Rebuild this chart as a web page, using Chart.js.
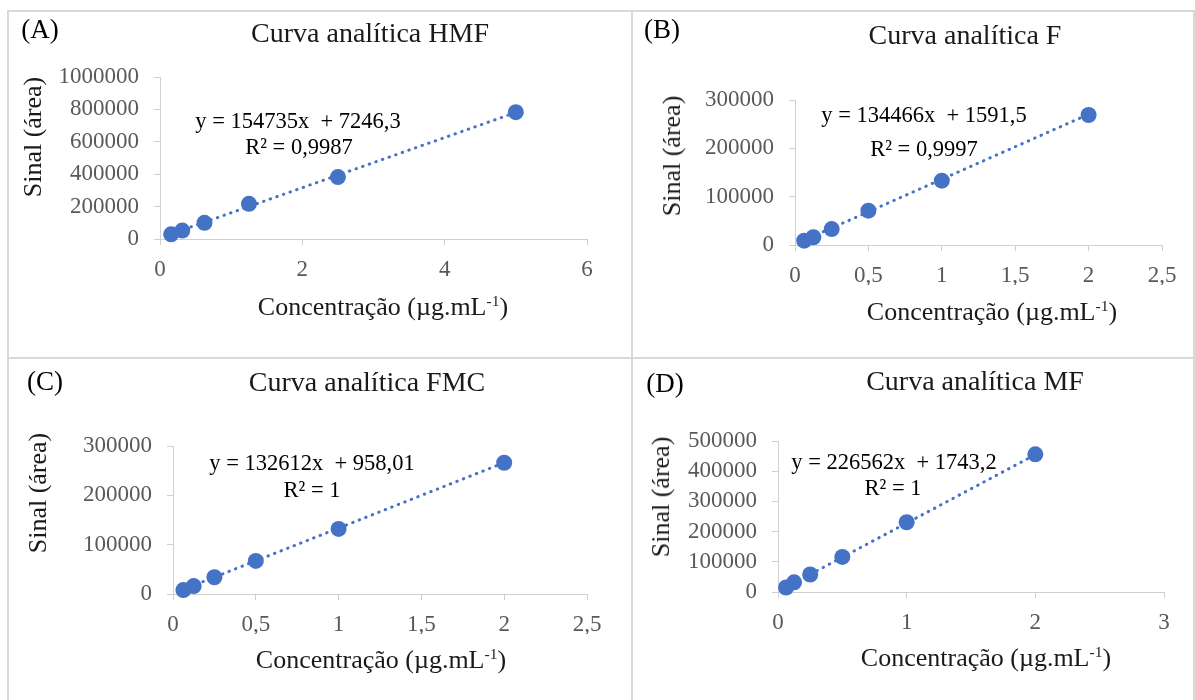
<!DOCTYPE html>
<html>
<head>
<meta charset="utf-8">
<script src="https://cdn.jsdelivr.net/npm/chart.js@4"></script>
<style>
  html, body { margin:0; padding:0; background:#fff; }
  #wrap { position:relative; width:1195px; height:700px; overflow:hidden; background:#fff; font-family:"Liberation Serif","Times New Roman",serif; }
  canvas { position:absolute; left:0; top:0; pointer-events:none; }
  .ln { position:absolute; background:#d9d9d9; }
  .t { position:absolute; line-height:1; white-space:pre; transform:translate(-50%,-50%); color:#111; }
  .letter { font-size:27px; color:#000; }
  .title { font-size:28px; color:#1a1a1a; }
  .ytitle { font-size:26px; color:#1a1a1a; transform:translate(-50%,-50%) rotate(-90deg); }
  .xtitle { font-size:26px; color:#1a1a1a; }
  .eq { font-size:22.5px; color:#000; }
  sup { font-size:60%; vertical-align:0.6em; line-height:0; }
</style>
</head>
<body>
<div id="wrap">
  <div class="ln" style="left:7px;top:10px;width:1188px;height:2px"></div>
  <div class="ln" style="left:7px;top:10px;width:2px;height:690px"></div>
  <div class="ln" style="left:631px;top:10px;width:2px;height:690px"></div>
  <div class="ln" style="left:7px;top:357px;width:1188px;height:2px"></div>
  <div class="ln" style="left:1193px;top:10px;width:2px;height:690px"></div>

  <canvas id="cA" width="1195" height="700"></canvas>
  <canvas id="cB" width="1195" height="700"></canvas>
  <canvas id="cC" width="1195" height="700"></canvas>
  <canvas id="cD" width="1195" height="700"></canvas>

  <div class="t letter" style="left:40px;top:29px">(A)</div>
  <div class="t title" style="left:370px;top:33px">Curva analítica HMF</div>
  <div class="t ytitle" style="left:33px;top:137px">Sinal (área)</div>
  <div class="t xtitle" style="left:383px;top:307px">Concentração (µg.mL<sup>-1</sup>)</div>
  <div class="t eq" style="left:298px;top:121px">y = 154735x  + 7246,3</div>
  <div class="t eq" style="left:299px;top:147px">R² = 0,9987</div>

  <div class="t letter" style="left:662px;top:29px">(B)</div>
  <div class="t title" style="left:965px;top:35px">Curva analítica F</div>
  <div class="t ytitle" style="left:672px;top:156px">Sinal (área)</div>
  <div class="t xtitle" style="left:992px;top:312px">Concentração (µg.mL<sup>-1</sup>)</div>
  <div class="t eq" style="left:924px;top:115px">y = 134466x  + 1591,5</div>
  <div class="t eq" style="left:924px;top:149px">R² = 0,9997</div>

  <div class="t letter" style="left:45px;top:381px">(C)</div>
  <div class="t title" style="left:367px;top:382px">Curva analítica FMC</div>
  <div class="t ytitle" style="left:38px;top:493px">Sinal (área)</div>
  <div class="t xtitle" style="left:381px;top:660px">Concentração (µg.mL<sup>-1</sup>)</div>
  <div class="t eq" style="left:312px;top:463px">y = 132612x  + 958,01</div>
  <div class="t eq" style="left:312px;top:490px">R² = 1</div>

  <div class="t letter" style="left:665px;top:383px">(D)</div>
  <div class="t title" style="left:975px;top:381px">Curva analítica MF</div>
  <div class="t ytitle" style="left:661px;top:497px">Sinal (área)</div>
  <div class="t xtitle" style="left:986px;top:658px">Concentração (µg.mL<sup>-1</sup>)</div>
  <div class="t eq" style="left:894px;top:462px">y = 226562x  + 1743,2</div>
  <div class="t eq" style="left:893px;top:488px">R² = 1</div>
</div>

<script>
// ---- Data ----
const concA = [0.156, 0.3125, 0.625, 1.25, 2.5, 5];
const areaA = [29000, 52000, 100000, 217000, 382000, 783000];
const trendXA = [0.156, 5];
const trendYA = [31400, 781000];

const concB = [0.0625, 0.125, 0.25, 0.5, 1, 2];
const areaB = [9000, 16000, 33000, 71000, 133000, 269000];
const trendXB = [0.0625, 2];
const trendYB = [10000, 270500];

const concC = [0.0625, 0.125, 0.25, 0.5, 1, 2];
const areaC = [8000, 16000, 34000, 67000, 132000, 266000];
const trendXC = [0.0625, 2];
const trendYC = [9250, 266200];

const concD = [0.0625, 0.125, 0.25, 0.5, 1, 2];
const areaD = [15000, 32000, 58000, 116000, 231000, 456000];
const trendXD = [0.0625, 2];
const trendYD = [15900, 454900];

// axis ranges / tick steps
const xMaxA = 6,   xStepA = 2,   yMaxA = 1000000, yStepA = 200000;
const xMaxB = 2.5, xStepB = 0.5, yMaxB = 300000,  yStepB = 100000;
const xMaxC = 2.5, xStepC = 0.5, yMaxC = 300000,  yStepC = 100000;
const xMaxD = 3,   xStepD = 1,   yMaxD = 500000,  yStepD = 100000;

// ---- Rendering ----
const BLUE = '#4472C4';
const AXIS = '#d0d0d0';
const TICKC = '#595959';
const Y_W = 100, X_H = 40;

function pts(xs, ys){ return xs.map((x,i)=>({x:x, y:ys[i]})); }
function fmt(v){ return String(v).replace('.', ','); }

function makeChart(id, xs, ys, tx, ty, xMax, xStep, yMax, yStep, area){
  const ctx = document.getElementById(id);
  return new Chart(ctx, {
    type: 'scatter',
    data: {
      datasets: [
        { data: pts(xs, ys), backgroundColor: BLUE, borderWidth: 0,
          pointRadius: 8, pointHoverRadius: 8, showLine: false, clip: false },
        { data: pts(tx, ty), showLine: true, borderColor: BLUE, borderWidth: 3,
          borderDash: [0.5, 6.5], borderCapStyle: 'round', pointRadius: 0, clip: false }
      ]
    },
    options: {
      responsive: false, animation: false, events: [],
      layout: { padding: { left: area.l - Y_W, right: 1195 - area.r, top: area.t, bottom: 700 - area.b - X_H } },
      plugins: { legend: { display: false }, tooltip: { enabled: false }, title: { display: false } },
      scales: {
        x: {
          type: 'linear', min: 0, max: xMax,
          afterFit: s => { s.height = X_H; },
          border: { display: true, color: AXIS, width: 1 },
          grid: { display: true, drawOnChartArea: false, drawTicks: true, tickLength: 6, color: AXIS },
          ticks: { stepSize: xStep, color: TICKC, padding: 11, maxRotation: 0, autoSkip: false,
                   font: { family: 'Liberation Serif', size: 23 }, callback: v => fmt(v) }
        },
        y: {
          type: 'linear', min: 0, max: yMax,
          afterFit: s => { s.width = Y_W; },
          border: { display: true, color: AXIS, width: 1 },
          grid: { display: true, drawOnChartArea: false, drawTicks: true, tickLength: 6, color: AXIS },
          ticks: { stepSize: yStep, color: TICKC, padding: 15, autoSkip: false,
                   font: { family: 'Liberation Serif', size: 23 }, callback: v => String(v) }
        }
      }
    }
  });
}

makeChart('cA', concA, areaA, trendXA, trendYA, xMaxA, xStepA, yMaxA, yStepA, {l:160, r:587, t:77,  b:239});
makeChart('cB', concB, areaB, trendXB, trendYB, xMaxB, xStepB, yMaxB, yStepB, {l:795, r:1162, t:100, b:245});
makeChart('cC', concC, areaC, trendXC, trendYC, xMaxC, xStepC, yMaxC, yStepC, {l:173, r:587, t:446, b:594});
makeChart('cD', concD, areaD, trendXD, trendYD, xMaxD, xStepD, yMaxD, yStepD, {l:778, r:1164, t:441, b:592});
</script>
</body>
</html>
